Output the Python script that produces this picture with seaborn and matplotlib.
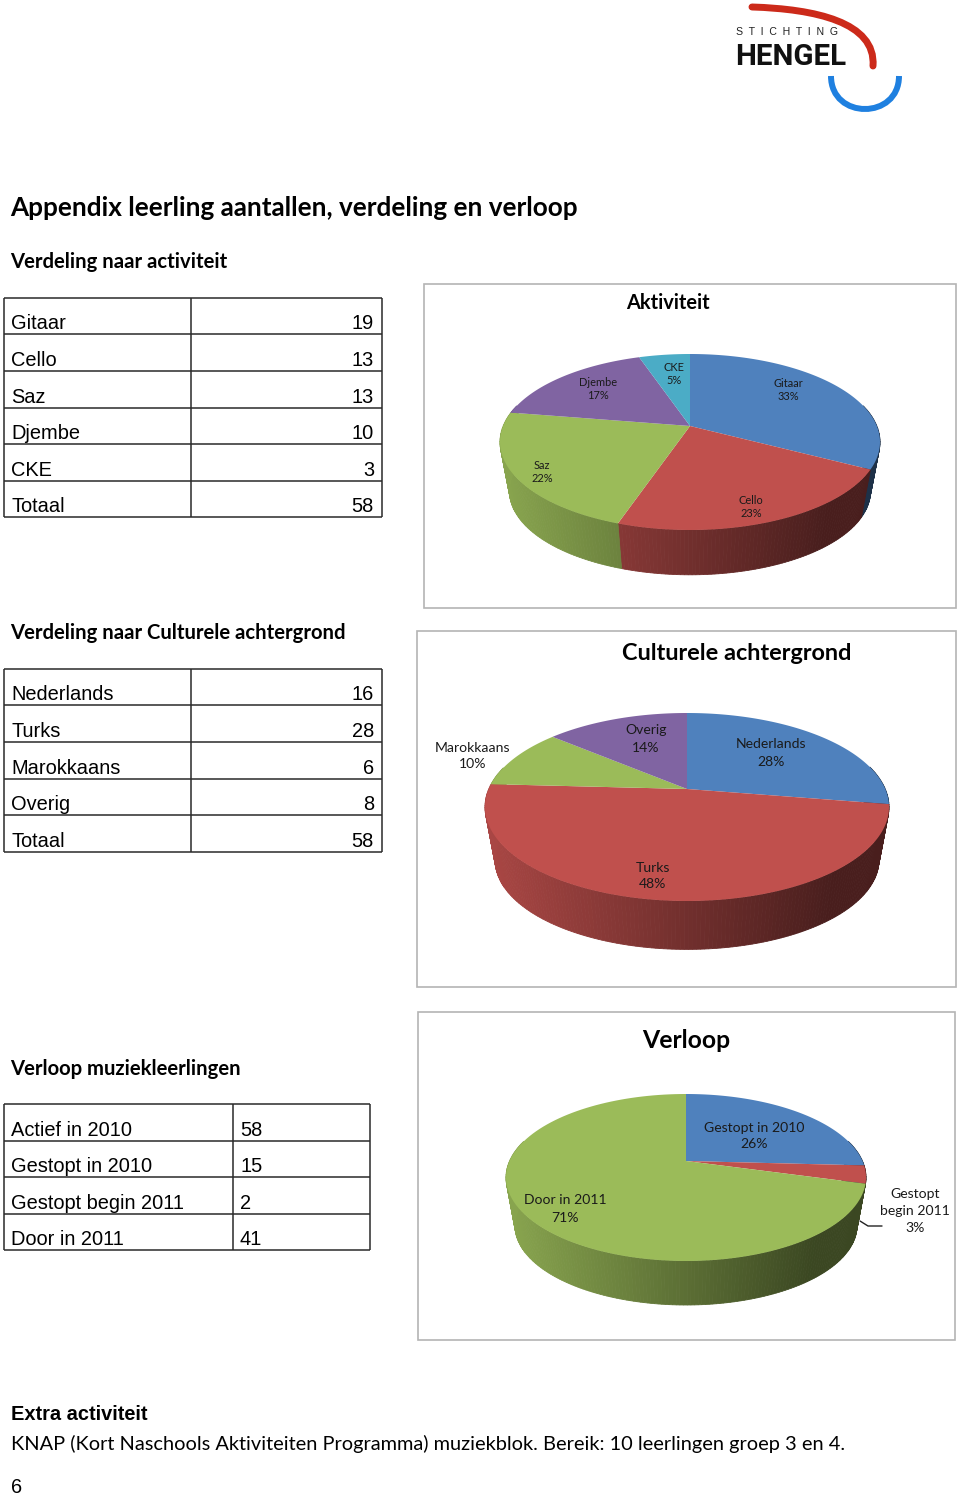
import numpy as np
import matplotlib
matplotlib.use("Agg")
import matplotlib.pyplot as plt
import seaborn as sns
from matplotlib.patches import PathPatch, Rectangle
from matplotlib.path import Path

# table contents
activity_names = ["Gitaar", "Cello", "Saz", "Djembe", "CKE", "Totaal"]
activity_counts = [19, 13, 13, 10, 3, 58]
culture_names = ["Nederlands", "Turks", "Marokkaans", "Overig", "Totaal"]
culture_counts = [16, 28, 6, 8, 58]
flow_names = ["Actief in 2010", "Gestopt in 2010", "Gestopt begin 2011", "Door in 2011"]
flow_counts = [58, 15, 2, 41]

# pie slices and what is printed on them
activity_labels = ["Gitaar", "Cello", "Saz", "Djembe", "CKE"]
activity_slices = [19, 13, 13, 10, 3]
activity_pct = [33, 23, 22, 17, 5]
culture_labels = ["Nederlands", "Turks", "Marokkaans", "Overig"]
culture_slices = [16, 28, 6, 8]
culture_pct = [28, 48, 10, 14]
flow_labels = ["Gestopt in 2010", "Gestopt\nbegin 2011", "Door in 2011"]
flow_slices = [15, 2, 41]
flow_pct = [26, 3, 71]

office = sns.color_palette(["#4f81bd", "#c0504d", "#9bbb59", "#8064a2", "#4bacc6"])

BODY = ["Lato", "DejaVu Sans"]
ARIAL = ["Liberation Sans", "DejaVu Sans"]
PX = 0.72  # points per pixel at dpi 100


def txt(ax, x, y, s, px, family=BODY, weight="normal", ha="left", va="baseline", **kw):
    return ax.text(x, y, s, fontsize=px * PX, family=family, weight=weight,
                   ha=ha, va=va, color=kw.pop("color", "black"), **kw)


def tilted_pie(ax, slices, colors, apex, up, down, half_w, depth, shrink=0.95):
    # pie seen in perspective: front half is drawn larger than the back half
    k = (down - up) / (down + up)
    a = up * (1 + k)
    b = half_w * np.sqrt(1 - k ** 2)

    def project(t, scale=1.0, dy=0.0):
        u, v = np.sin(t), np.cos(t)
        w = 1 + k * v
        return apex[0] + scale * b * u / w, apex[1] + dy - scale * a * v / w

    edges = np.radians(np.cumsum([0] + list(slices)) * 360.0 / sum(slices))

    # side wall, strip by strip, darker towards the right
    for c, t0, t1 in zip(colors, edges[:-1], edges[1:]):
        n = max(2, int((t1 - t0) / np.radians(1.0)))
        ts = np.linspace(t0, t1, n + 1)
        for s0, s1 in zip(ts[:-1], ts[1:]):
            if np.cos((s0 + s1) / 2) > 0.25:
                continue
            x0, y0 = project(s0)
            x1, y1 = project(s1)
            x2, y2 = project(s1, shrink, depth)
            x3, y3 = project(s0, shrink, depth)
            frac = ((x0 + x1) / 2 - (apex[0] - half_w)) / (2 * half_w)
            f = max(0.38, 0.88 - 0.58 * frac)
            shade = tuple(np.array(c) * f)
            ax.fill([x0, x1, x2, x3], [y0, y1, y2, y3], color=shade, lw=0.6, zorder=2)

    # top face
    for c, t0, t1 in zip(colors, edges[:-1], edges[1:]):
        ts = np.linspace(t0, t1, 120)
        xs, ys = project(ts)
        ax.fill(np.r_[apex[0], xs], np.r_[apex[1], ys], color=c, lw=0, zorder=3)


def table(ax, names, counts, ys, xs, num_x, num_ha):
    ax.hlines(ys, xs[0], xs[-1], color="#2a2a2a", lw=1.1)
    ax.vlines(xs, ys[0], ys[-1], color="#2a2a2a", lw=1.1)
    for i, (n, c) in enumerate(zip(names, counts)):
        base = ys[i + 1] - 5
        txt(ax, 11, base, n, 20, family=ARIAL)
        txt(ax, num_x, base, str(c), 20, family=ARIAL, ha=num_ha)


sns.set_theme(style="white")
fig = plt.figure(figsize=(9.6, 14.95), dpi=100)
page = fig.add_axes([0, 0, 1, 1])
page.set_xlim(0, 960)
page.set_ylim(1495, 0)
page.axis("off")

# logo
page.add_patch(PathPatch(Path([(752, 7), (815, 9), (876, 22), (873, 66)],
                              [Path.MOVETO, Path.CURVE4, Path.CURVE4, Path.CURVE4]),
                         fc="none", ec="#cc2a1a", lw=5, capstyle="round"))
page.add_patch(PathPatch(Path([(831, 76), (831, 120), (899, 120), (899, 76)],
                              [Path.MOVETO, Path.CURVE4, Path.CURVE4, Path.CURVE4]),
                         fc="none", ec="#1f80e0", lw=4.3))
txt(page, 736, 35, "S  T  I  C  H  T  I  N  G", 10.5, family=ARIAL, color="#222222")
txt(page, 735, 65, "HENGEL", 29.5, family=["Roboto", "Lato"], weight="bold", color="#111111")

# headings
txt(page, 10, 216, "Appendix leerling aantallen, verdeling en verloop", 26.1, weight="bold")
txt(page, 10, 268, "Verdeling naar activiteit", 20.3, weight="bold")
txt(page, 10, 639, "Verdeling naar Culturele achtergrond", 20.3, weight="bold")
txt(page, 10, 1075, "Verloop muziekleerlingen", 20.3, weight="bold")

# tables
table(page, activity_names, activity_counts, [298, 334, 371, 408, 444, 481, 517], [4, 191, 382], 374, "right")
table(page, culture_names, culture_counts, [669, 705, 742, 779, 815, 852], [4, 191, 382], 374, "right")
table(page, flow_names, flow_counts, [1104, 1141, 1177, 1214, 1250], [4, 233, 370], 240, "left")

# chart frames
for x0, y0, x1, y1 in [(424, 284, 956, 608), (417, 631, 956, 987), (418, 1012, 955, 1340)]:
    page.add_patch(Rectangle((x0, y0), x1 - x0, y1 - y0, fc="white", ec="#b4b4b4", lw=1.2, zorder=1))

# Aktiviteit
tilted_pie(page, activity_slices, office, (690, 426), 72, 104, 190, 50)
txt(page, 668, 303, "Aktiviteit", 20, weight="bold", ha="center", va="center", zorder=5)
for s, p, pos in zip(activity_labels, activity_pct,
                     [(788, 390), (751, 507), (542, 472), (598, 389), (674, 374)]):
    txt(page, pos[0], pos[1], f"{s}\n{p}%", 11, ha="center", va="center", zorder=5,
        color="#1a1a1a", linespacing=1.3)

# Culturele achtergrond
tilted_pie(page, culture_slices, office[:4], (687, 789), 76, 112, 202, 54)
txt(page, 737, 654, "Culturele achtergrond", 23.5, weight="bold", ha="center", va="center", zorder=5)
for s, p, pos in zip(culture_labels, culture_pct,
                     [(771, 753), (653, 876), (473, 756), (646, 739)]):
    txt(page, pos[0], pos[1], f"{s}\n{p}%", 14, ha="center", va="center", zorder=5,
        color="#1a1a1a", linespacing=1.5)

# Verloop
tilted_pie(page, flow_slices, office[:3], (686, 1161), 67, 100, 180, 49)
txt(page, 686, 1041, "Verloop", 24.8, weight="bold", ha="center", va="center", zorder=5)
for s, p, pos in zip(flow_labels, flow_pct, [(754, 1136), (915, 1211), (565, 1209)]):
    txt(page, pos[0], pos[1], f"{s}\n{p}%", 14, ha="center", va="center", zorder=5,
        color="#1a1a1a", linespacing=1.5)
page.plot([860, 868, 882], [1221, 1226, 1226], color="#222222", lw=1, zorder=5)

# footer
txt(page, 11, 1420, "Extra activiteit", 20, family=ARIAL, weight="bold")
txt(page, 11, 1450, "KNAP (Kort Naschools Aktiviteiten Programma) muziekblok. Bereik: 10 leerlingen groep 3 en 4.", 20)
txt(page, 11, 1493, "6", 20, family=ARIAL)

fig.savefig("out.png", dpi=100)
